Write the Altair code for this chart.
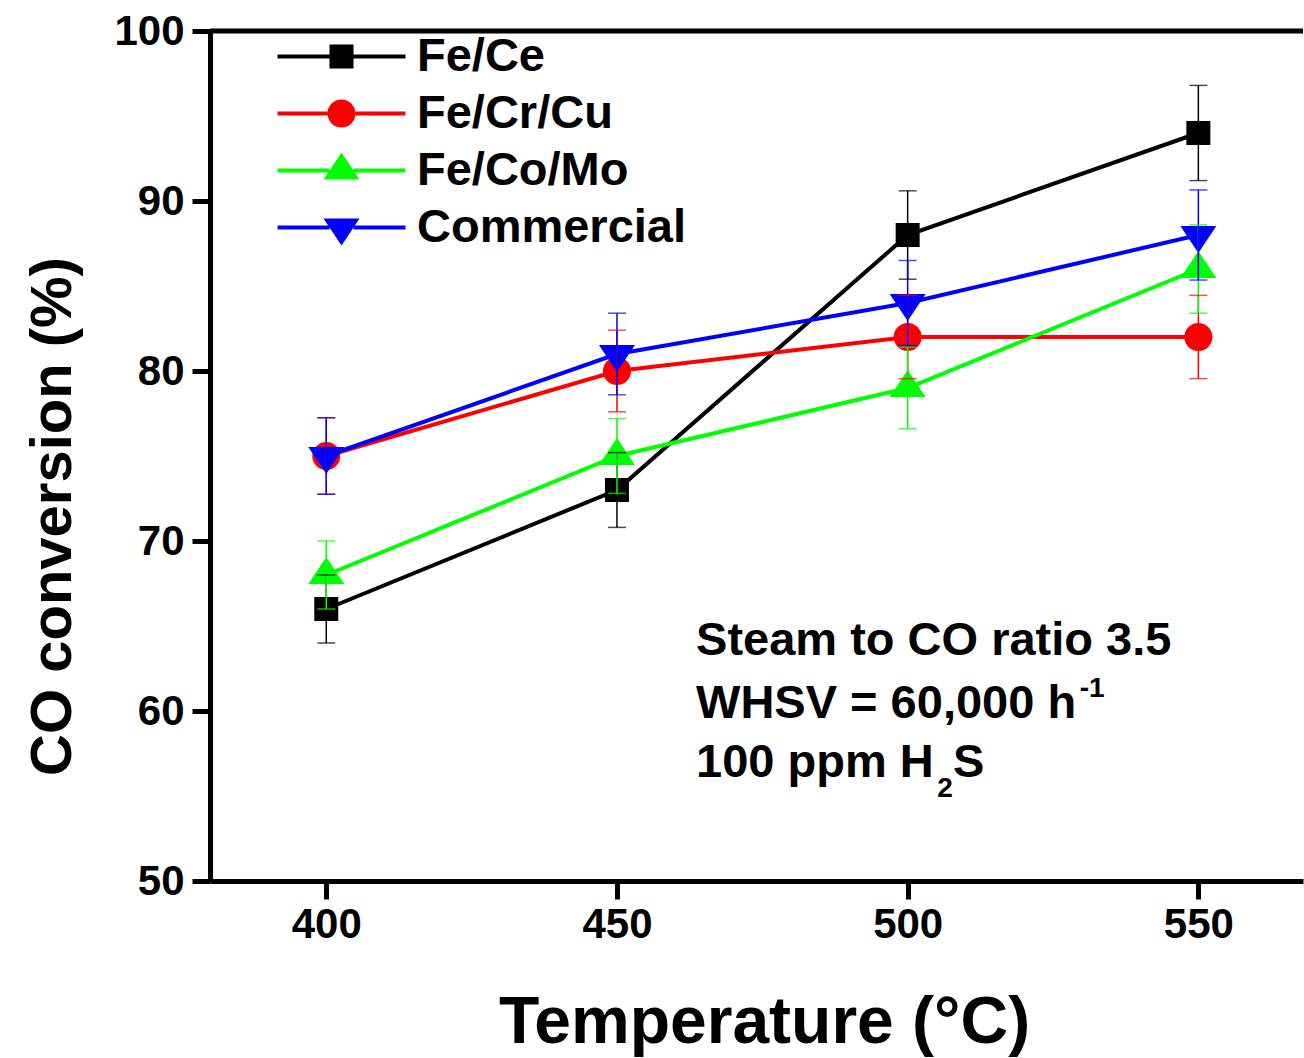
import altair as alt
import pandas as pd

# ---- data -------------------------------------------------------------
temperature = [400, 450, 500, 550]
series_names = ["Fe/Ce", "Fe/Cr/Cu", "Fe/Co/Mo", "Commercial"]

fe_ce = [66, 73, 88, 94]
fe_ce_err = [2.0, 2.2, 2.6, 2.8]
fe_cr_cu = [75, 80, 82, 82]
fe_cr_cu_err = [2.25, 2.4, 2.45, 2.45]
fe_co_mo = [68, 75, 79, 86]
fe_co_mo_err = [2.0, 2.2, 2.4, 2.6]
commercial = [75, 81, 84, 88]
commercial_err = [2.25, 2.4, 2.5, 2.65]

x_ticks = [400, 450, 500, 550]
y_ticks = [50, 60, 70, 80, 90, 100]

# ---- styles -----------------------------------------------------------
FONT = "Liberation Sans"
colors = ["#000000", "#FF0000", "#00FF00", "#0000FF"]

# marker outlines in symbol units (1 unit = 12 px at size 576)
square = "M-1,-1H1V1H-1Z"
circle = "M-1.17,0A1.17,1.17,0,1,1,1.17,0A1.17,1.17,0,1,1,-1.17,0Z"
tri_up = "M0,-1.5L1.5,0.75L-1.5,0.75Z"
tri_down = "M0,1.5L-1.5,-0.75L1.5,-0.75Z"
markers = [square, circle, tri_up, tri_down]
marker_half = [1.0, 1.17, 1.0, 1.0]


def with_line(path, half):
    # legend glyph: the marker plus a short line on each side
    t = 0.17
    left = f"M-5.33,{-t}H{-half}V{t}H-5.33Z"
    right = f"M{half},{-t}H5.33V{t}H{half}Z"
    return path + left + right


legend_paths = [with_line(p, h) for p, h in zip(markers, marker_half)]

# ---- long table -------------------------------------------------------
rows = []
for name, vals, errs, col, mk in zip(
    series_names,
    [fe_ce, fe_cr_cu, fe_co_mo, commercial],
    [fe_ce_err, fe_cr_cu_err, fe_co_mo_err, commercial_err],
    colors,
    markers,
):
    for t, v, e in zip(temperature, vals, errs):
        rows.append(
            dict(series=name, temp=t, conv=v, lo=v - e, hi=v + e, color=col, marker=mk)
        )
df = pd.DataFrame(rows)

x_scale = alt.Scale(domain=[380, 568], nice=False, zero=False)
y_scale = alt.Scale(domain=[50, 100], nice=False, zero=False)

x_axis = alt.Axis(
    values=x_ticks,
    format="d",
    tickSize=18,
    tickWidth=5,
    domainWidth=5,
    labelFontSize=42,
    labelPadding=5,
    labelFlush=False,
    title="Temperature (°C)",
    titleFontSize=66,
    titleX=554,
    titleY=161,
    titleAlign="center",
    titleBaseline="alphabetic",
    grid=False,
)
y_axis = alt.Axis(
    values=y_ticks,
    format="d",
    tickSize=18,
    tickWidth=5,
    domainWidth=5,
    labelFontSize=42,
    labelPadding=8,
    title="CO conversion (%)",
    titleFontSize=58,
    titleAngle=270,
    titleX=-140,
    titleY=485,
    titleAlign="center",
    titleBaseline="alphabetic",
    grid=False,
)


def xenc(field):
    return alt.X(field, scale=x_scale, axis=x_axis)


def yenc(field):
    return alt.Y(field, scale=y_scale, axis=y_axis)


base = alt.Chart(df)
color_id = alt.Color("color:N", scale=None)

lines = base.mark_line(strokeWidth=4).encode(
    x=xenc("temp:Q"),
    y=yenc("conv:Q"),
    detail="series:N",
    color=color_id,
)

points = base.mark_point(filled=True, size=576, opacity=1, strokeWidth=0).encode(
    x=xenc("temp:Q"),
    y=yenc("conv:Q"),
    shape=alt.Shape("marker:N", scale=None),
    color=color_id,
)

err_rule = base.mark_rule(strokeWidth=1.5).encode(
    x=xenc("temp:Q"),
    y=yenc("lo:Q"),
    y2="hi:Q",
    color=color_id,
)
cap_lo = base.mark_tick(orient="horizontal", size=18, thickness=1.5).encode(
    x=xenc("temp:Q"),
    y=yenc("lo:Q"),
    color=color_id,
)
cap_hi = base.mark_tick(orient="horizontal", size=18, thickness=1.5).encode(
    x=xenc("temp:Q"),
    y=yenc("hi:Q"),
    color=color_id,
)

# top frame line at the upper end of the y domain
top_frame = alt.Chart(pd.DataFrame({"top": [y_ticks[-1]]})).mark_rule(
    color="black", strokeWidth=5
).encode(
    y=yenc("top:Q"),
    x=alt.value(0),
    x2=alt.value("width"),
)

# legend only: no rows are drawn, the scales carry the entries
leg = alt.Legend(
    title=None,
    orient="none",
    legendX=108,
    legendY=2,
    padding=0,
    labelFont=FONT,
    labelFontSize=47,
    labelFontWeight="bold",
    labelColor="black",
    labelLimit=0,
    labelOffset=52,
    rowPadding=9,
    symbolSize=576,
    symbolStrokeWidth=0,
    symbolOpacity=1,
)
legend_layer = (
    base.transform_filter("false")
    .mark_point(filled=True, size=576, opacity=1, strokeWidth=0)
    .encode(
        x=xenc("temp:Q"),
        y=yenc("conv:Q"),
        color=alt.Color(
            "series:N", scale=alt.Scale(domain=series_names, range=colors), legend=leg
        ),
        shape=alt.Shape(
            "series:N",
            scale=alt.Scale(domain=series_names, range=legend_paths),
            legend=leg,
        ),
    )
)

# conditions note, with super- and subscripts as separate pieces
notes = pd.DataFrame(
    {
        "label": ["Steam to CO ratio 3.5", "WHSV = 60,000 h", "100 ppm H", "S", "-1", "2"],
        "tx": [463.6, 463.6, 463.6, 507.8, 529.6, 505.1],
        "ty": [63.3, 59.6, 56.1, 56.1, 60.8, 54.95],
        "fs": [47, 47, 47, 47, 28, 28],
    }
)
note_layer = (
    alt.Chart(notes)
    .mark_text(align="left", baseline="alphabetic", font=FONT, fontWeight="bold", color="black")
    .encode(
        x=xenc("tx:Q"),
        y=yenc("ty:Q"),
        text="label:N",
        size=alt.Size("fs:Q", scale=None),
    )
)

chart = (
    alt.layer(lines, points, err_rule, cap_lo, cap_hi, top_frame, legend_layer, note_layer)
    .properties(
        width=1093,
        height=850,
        autosize=alt.AutoSizeParams(type="none"),
        padding={"left": 210, "top": 31, "right": 1, "bottom": 177},
    )
    .configure_view(strokeWidth=0)
    .configure_axis(
        labelFont=FONT,
        titleFont=FONT,
        labelFontWeight="bold",
        titleFontWeight="bold",
        labelColor="black",
        titleColor="black",
        domainColor="black",
        tickColor="black",
    )
)

chart.save("out.html", embed_options={"renderer": "svg", "actions": False})
